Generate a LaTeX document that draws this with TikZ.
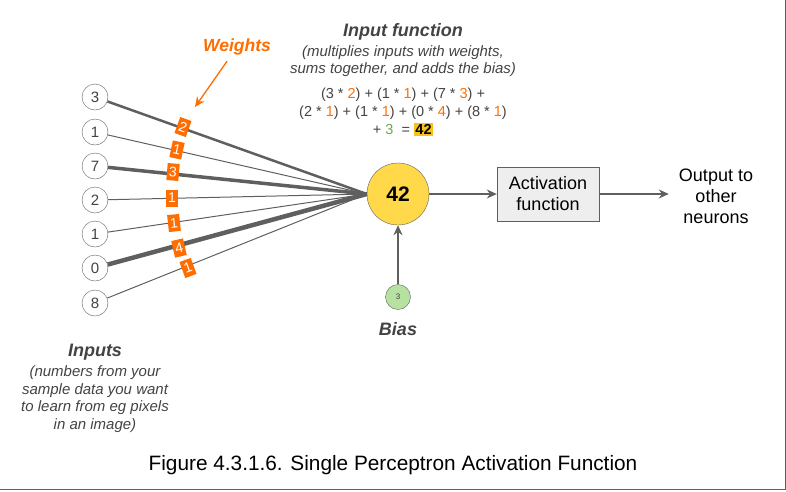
\documentclass[tikz,border=0pt]{standalone}
\usepackage{fontspec}
\setmainfont{Liberation Sans}
\usetikzlibrary{arrows.meta}
\definecolor{wOrange}{HTML}{FF6D00}
\definecolor{edgeGray}{HTML}{5F5F5F}
\definecolor{textGray}{HTML}{434343}
\definecolor{sumYellow}{HTML}{FFD94A}
\definecolor{hlYellow}{HTML}{F9C21B}
\definecolor{biasGreen}{HTML}{B7E1A1}
\definecolor{boxGray}{HTML}{EEEEEE}
\definecolor{plusGreen}{HTML}{6AA84F}
\setlength{\fboxsep}{1.5pt}
\newcommand{\wt}[1]{\textcolor{wOrange}{#1}}

\begin{document}
\begin{tikzpicture}[x=1pt,y=-1pt,
  >={Stealth[length=10pt,width=9pt]},
  inp/.style={circle,draw=edgeGray,fill=white,minimum size=26pt,inner sep=0pt,text=textGray,font=\fontsize{15}{15}\selectfont},
  wbox/.style={fill=wOrange,text=white,inner sep=0pt,minimum width=12pt,minimum height=17pt,font=\fontsize{14}{14}\selectfont},
  note/.style={align=center,text=textGray,font=\fontsize{15}{17.5}\selectfont\itshape},
  head/.style={text=textGray,font=\fontsize{18}{18}\selectfont\bfseries\itshape},
  plain/.style={align=center,text=black,font=\fontsize{18}{21}\selectfont}]

  \useasboundingbox (0,0) rectangle (786,491);

  % inputs
  \node[inp] (i1) at (95,97) {3};
  \node[inp] (i2) at (95,132) {1};
  \node[inp] (i3) at (95,166) {7};
  \node[inp] (i4) at (95,200) {2};
  \node[inp] (i5) at (95,234) {1};
  \node[inp] (i6) at (95,268) {0};
  \node[inp] (i7) at (95,303) {8};

  \node[circle,draw=edgeGray,fill=sumYellow,minimum size=62pt,inner sep=0pt,font=\fontsize{21}{21}\selectfont\bfseries] (sum) at (398,194) {42};
  \node[circle,draw=edgeGray,fill=biasGreen,minimum size=25pt,inner sep=0pt,text=textGray,font=\fontsize{8}{8}\selectfont] (bias) at (398,297) {3};
  \node[draw=edgeGray,fill=boxGray,minimum width=102pt,minimum height=54pt,plain] (act) at (548,194) {Activation\\function};
  \node[plain,inner sep=0pt] (out) at (716,196) {Output to\\other\\neurons};

  % weighted links
  \draw[edgeGray,line width=2.5pt] (i1) -- (sum.west);
  \draw[edgeGray,line width=1pt] (i2) -- (sum.west);
  \draw[edgeGray,line width=3.5pt] (i3) -- (sum.west);
  \draw[edgeGray,line width=1pt] (i4) -- (sum.west);
  \draw[edgeGray,line width=1pt] (i5) -- (sum.west);
  \draw[edgeGray,line width=4.5pt] (i6) -- (sum.west);
  \draw[edgeGray,line width=1pt] (i7) -- (sum.west);

  \node[wbox,rotate=-20] (w1) at (183,127) {2};
  \node[wbox,rotate=-12] (w2) at (177,150) {1};
  \node[wbox,rotate=-5] (w3) at (173,172) {3};
  \node[wbox] (w4) at (172,198) {1};
  \node[wbox,rotate=6] (w5) at (174,223) {1};
  \node[wbox,rotate=13] (w6) at (179,248) {4};
  \node[wbox,rotate=20] (w7) at (188,268) {1};

  \draw[->,edgeGray,line width=1.3pt] (sum) -- (act);
  \draw[->,edgeGray,line width=1.3pt,shorten >=10pt] (act.east) -- (act.east -| out.west);
  \draw[->,edgeGray,line width=1.3pt] (bias) -- (sum);

  % labels
  \node[head,text=wOrange,font=\fontsize{17.5}{17.5}\selectfont\bfseries\itshape] (wlab) at (237,47) {Weights};
  \coordinate (wtip) at (195,107);
  \draw[->,wOrange,line width=1.3pt,shorten <=3pt] (wlab) -- (wtip);

  \node[head] (ftitle) at (403,32) {Input function};
  \node[note] (fnote) at (403,61) {(multiplies inputs with weights,\\sums together, and adds the bias)};
  \node[align=center,text=textGray,font=\fontsize{14.5}{18}\selectfont] (eq) at (403,112)
    {(3 * \wt{2}) + (1 * \wt{1}) + (7 * \wt{3}) +\\
     (2 * \wt{1}) + (1 * \wt{1}) + (0 * \wt{4}) + (8 * \wt{1})\\
     + \textcolor{plusGreen}{3} \ = \colorbox{hlYellow}{\textcolor{black}{\bfseries 42}}};

  \node[head] (blab) at (398,329) {Bias};
  \node[head] (ilab) at (95,352) {Inputs};
  \node[note] (inote) at (95,399) {(numbers from your\\sample data you want\\to learn from eg pixels\\in an image)};

  \node[font=\fontsize{20.8}{20.8}\selectfont] (cap) at (393,465) {Figure 4.3.1.6. Single Perceptron Activation Function};

  \draw[edgeGray,line width=1.5pt] (0,489.5) -- (785.5,489.5) -- (785.5,0);
\end{tikzpicture}
\end{document}
